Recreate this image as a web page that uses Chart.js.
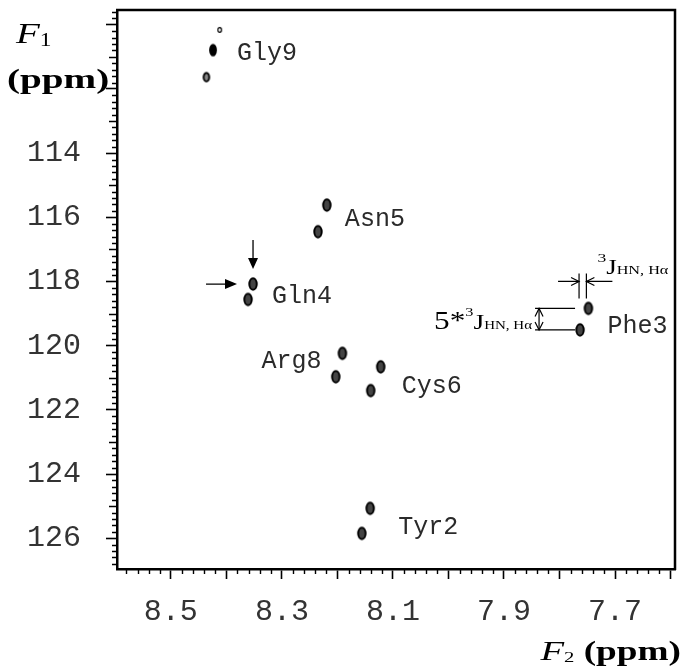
<!DOCTYPE html>
<html>
<head>
<meta charset="utf-8">
<script src="https://cdn.jsdelivr.net/npm/chart.js@4.4.1/dist/chart.umd.min.js"></script>
<style>
  html, body { margin: 0; padding: 0; background: #fff; }
  #wrap { width: 683px; height: 666px; }
</style>
</head>
<body>
<div id="wrap"><canvas id="hsqc" width="683" height="666"></canvas></div>
<script>
// residue assignments and cross peaks (F2 = 1H ppm, F1 = 15N ppm)
const residues = ['Gly9', 'Asn5', 'Gln4', 'Arg8', 'Cys6', 'Tyr2', 'Phe3'];
const peakF2 = [
    [8.412, 8.424, 8.436],
    [8.219, 8.235],
    [8.352, 8.361],
    [8.191, 8.203],
    [8.122, 8.140],
    [8.141, 8.156],
    [7.748, 7.763]
];
const peakF1 = [
    [110.16, 110.79, 111.63],
    [115.62, 116.45],
    [118.08, 118.56],
    [120.24, 120.97],
    [120.66, 121.40],
    [125.07, 125.85],
    [118.84, 119.51]
];
const f2Ticks = [8.5, 8.3, 8.1, 7.9, 7.7];
const f1Ticks = [114, 116, 118, 120, 122, 124, 126];
const f2Range = [7.592, 8.597];
const f1Range = [109.54, 126.96];

// contour blobs used as point markers
function blob(rx, ry, fill, line) {
    const c = document.createElement('canvas');
    c.width = Math.ceil(rx * 2 + line + 2);
    c.height = Math.ceil(ry * 2 + line + 2);
    const g = c.getContext('2d');
    g.beginPath();
    g.ellipse(c.width / 2, c.height / 2, rx, ry, 0, 0, Math.PI * 2);
    g.fillStyle = fill;
    g.fill();
    if (line) {
        g.lineWidth = line;
        g.strokeStyle = '#000';
        g.stroke();
    }
    return c;
}
const blobs = {
    tiny: blob(1.8, 2.4, '#fff', 1.2),
    solid: blob(3.9, 6.3, '#000', 0),
    small: blob(2.8, 4.3, '#888', 1.9),
    ring: blob(3.7, 5.7, '#444', 2)
};
const peakStyle = { Gly9: ['tiny', 'solid', 'small'] };

// label placement: [peak index, dx, dy, align]
const labelPlace = {
    Gly9: [1, 24, 2, 'left'],
    Asn5: [0, 18, 13, 'left'],
    Gln4: [0, 19, 11, 'left'],
    Arg8: [0, -21, 7, 'right'],
    Cys6: [0, 21, 18, 'left'],
    Tyr2: [0, 28, 18, 'left'],
    Phe3: [0, 19, 17, 'left']
};

const serif = 'Liberation Serif';
const mono = 'Liberation Mono';

// draw a run of text pieces, stretched horizontally
function drawRun(ctx, parts, x, y, sx, align) {
    let w = 0;
    parts.forEach(p => { ctx.font = p[1]; w += ctx.measureText(p[0]).width; });
    let cx = align === 'right' ? x - w * sx : x;
    parts.forEach(p => {
        ctx.font = p[1];
        ctx.save();
        ctx.translate(cx, y + (p[2] || 0));
        ctx.scale(sx, 1);
        ctx.fillText(p[0], 0, 0);
        ctx.restore();
        cx += ctx.measureText(p[0]).width * sx;
    });
}

function arrowHead(ctx, x, y, dx, dy, len, half, filled) {
    // tip at (x, y), pointing in direction (dx, dy)
    const bx = x - dx * len, by = y - dy * len;
    const nx = -dy * half, ny = dx * half;
    ctx.beginPath();
    ctx.moveTo(bx + nx, by + ny);
    ctx.lineTo(x, y);
    ctx.lineTo(bx - nx, by - ny);
    if (filled) {
        ctx.closePath();
        ctx.fill();
    } else {
        ctx.stroke();
    }
}

const decor = {
    id: 'decor',
    afterDraw(chart) {
        const { ctx, chartArea: a, scales: { x, y } } = chart;
        const pt = (i, j) => ({ x: x.getPixelForValue(peakF2[i][j]), y: y.getPixelForValue(peakF1[i][j]) });
        ctx.save();
        ctx.strokeStyle = '#000';
        ctx.fillStyle = '#000';

        // top and right edges of the frame
        ctx.lineWidth = 2.5;
        ctx.beginPath();
        ctx.moveTo(a.left - 1, a.top);
        ctx.lineTo(a.right, a.top);
        ctx.lineTo(a.right, a.bottom + 1);
        ctx.stroke();

        // minor ticks
        ctx.lineWidth = 1.4;
        ctx.beginPath();
        for (let i = Math.ceil(f2Range[0] * 50); i <= Math.floor(f2Range[1] * 50); i++) {
            if (i % 5 === 0) continue;
            const px = Math.round(x.getPixelForValue(i / 50)) + 0.5;
            ctx.moveTo(px, a.bottom);
            ctx.lineTo(px, a.bottom + 5);
        }
        for (let i = Math.ceil(f1Range[0] * 5); i <= Math.floor(f1Range[1] * 5); i++) {
            if (i % 10 === 0) continue;
            const py = Math.round(y.getPixelForValue(i / 5)) + 0.5;
            const len = i % 5 === 0 ? 8 : 5;
            ctx.moveTo(a.left, py);
            ctx.lineTo(a.left - len, py);
        }
        ctx.stroke();

        // residue labels
        ctx.fillStyle = '#2a2a2a';
        ctx.font = '25px ' + mono;
        residues.forEach((name, i) => {
            const [j, dx, dy, align] = labelPlace[name];
            const p = pt(i, j);
            ctx.textAlign = align;
            ctx.fillText(name, p.x + dx, p.y + dy + 8);
        });
        ctx.textAlign = 'left';
        ctx.fillStyle = '#000';

        // arrows pointing at Gln4
        const g = pt(2, 0);
        ctx.lineWidth = 1.3;
        ctx.beginPath();
        ctx.moveTo(g.x, g.y - 44);
        ctx.lineTo(g.x, g.y - 24);
        ctx.moveTo(g.x - 47, g.y);
        ctx.lineTo(g.x - 26, g.y);
        ctx.stroke();
        arrowHead(ctx, g.x, g.y - 15, 0, 1, 11, 5, true);
        arrowHead(ctx, g.x - 16, g.y, 1, 0, 12, 5, true);

        // coupling annotations on Phe3
        const u = pt(6, 0), l = pt(6, 1);
        ctx.lineWidth = 1.2;
        const ay = u.y - 27;
        ctx.beginPath();
        ctx.moveTo(l.x - 1, u.y - 35); ctx.lineTo(l.x - 1, u.y - 10);
        ctx.moveTo(u.x - 2, u.y - 35); ctx.lineTo(u.x - 2, u.y - 10);
        ctx.moveTo(l.x - 22, ay); ctx.lineTo(l.x - 1, ay);
        ctx.moveTo(u.x + 24, ay); ctx.lineTo(u.x - 2, ay);
        ctx.stroke();
        arrowHead(ctx, l.x - 1, ay, 1, 0, 8, 4, false);
        arrowHead(ctx, u.x - 2, ay, -1, 0, 8, 4, false);

        const vx = l.x - 41;
        ctx.beginPath();
        ctx.moveTo(l.x - 45, u.y); ctx.lineTo(l.x - 5, u.y);
        ctx.moveTo(l.x - 45, l.y); ctx.lineTo(l.x - 5, l.y);
        ctx.moveTo(vx, u.y); ctx.lineTo(vx, l.y);
        ctx.stroke();
        arrowHead(ctx, vx, u.y, 0, -1, 8, 4, false);
        arrowHead(ctx, vx, l.y, 0, 1, 8, 4, false);

        drawRun(ctx, [['3', '13px ' + serif, -12], ['J', '20px ' + serif, 0], ['HN, H\u03b1', '12px ' + serif, 0]],
            u.x + 9, u.y - 34, 1.35, 'left');
        drawRun(ctx, [['5*', '25px ' + serif, 0], ['3', '13px ' + serif, -13], ['J', '22px ' + serif, 0], ['HN, H\u03b1', '12px ' + serif, 0]],
            l.x - 48, l.y - 1, 1.25, 'right');

        // axis titles
        drawRun(ctx, [['F', 'italic 30px ' + serif, 0], ['1', '18px ' + serif, 3]], 16, 43, 1.3, 'left');
        drawRun(ctx, [['(ppm)', 'bold 27px ' + serif, 0]], 7, 88, 1.45, 'left');
        drawRun(ctx, [['F', 'italic 28px ' + serif, 0], ['2', '15px ' + serif, 2], [' (ppm)', 'bold 27px ' + serif, 0]],
            681, 660, 1.38, 'right');

        ctx.restore();
    }
};

const datasets = residues.map((name, i) => ({
    label: name,
    data: peakF2[i].map((v, j) => ({ x: v, y: peakF1[i][j] })),
    pointStyle: peakStyle[name] ? peakStyle[name].map(k => blobs[k]) : blobs.ring,
    pointRadius: 5,
    showLine: false
}));

const ctx = document.getElementById('hsqc').getContext('2d');
const hsqcChart = new Chart(ctx, {
    type: 'scatter',
    data: { datasets: datasets },
    options: {
        responsive: false,
        animation: false,
        devicePixelRatio: 1,
        layout: { padding: { left: 0, top: 10, right: 8, bottom: 0 } },
        plugins: {
            legend: { display: false },
            tooltip: { enabled: false }
        },
        scales: {
            x: {
                type: 'linear',
                position: 'bottom',
                reverse: true,
                min: f2Range[0],
                max: f2Range[1],
                afterFit: s => { s.height = 97; s.paddingLeft = 0; s.paddingRight = 0; },
                border: { display: true, color: '#000', width: 2.5 },
                grid: { drawOnChartArea: false, drawTicks: true, tickLength: 10, tickColor: '#000', tickWidth: 1.6 },
                ticks: {
                    stepSize: 0.1,
                    includeBounds: false,
                    autoSkip: false,
                    maxRotation: 0,
                    padding: 15,
                    color: '#333',
                    font: { family: mono, size: 30 },
                    callback: v => f2Ticks.some(t => Math.abs(t - v) < 1e-6) ? v.toFixed(1) : ''
                }
            },
            y: {
                type: 'linear',
                position: 'left',
                reverse: true,
                min: f1Range[0],
                max: f1Range[1],
                afterFit: s => { s.width = 117; s.paddingTop = 0; s.paddingBottom = 0; },
                border: { display: true, color: '#000', width: 2.5 },
                grid: { drawOnChartArea: false, drawTicks: true, tickLength: 11, tickColor: '#000', tickWidth: 1.6 },
                ticks: {
                    stepSize: 2,
                    includeBounds: false,
                    autoSkip: false,
                    padding: 25,
                    color: '#333',
                    font: { family: mono, size: 30 },
                    callback: v => f1Ticks.includes(v) ? String(v) : ''
                }
            }
        }
    },
    plugins: [decor]
});
</script>
</body>
</html>
